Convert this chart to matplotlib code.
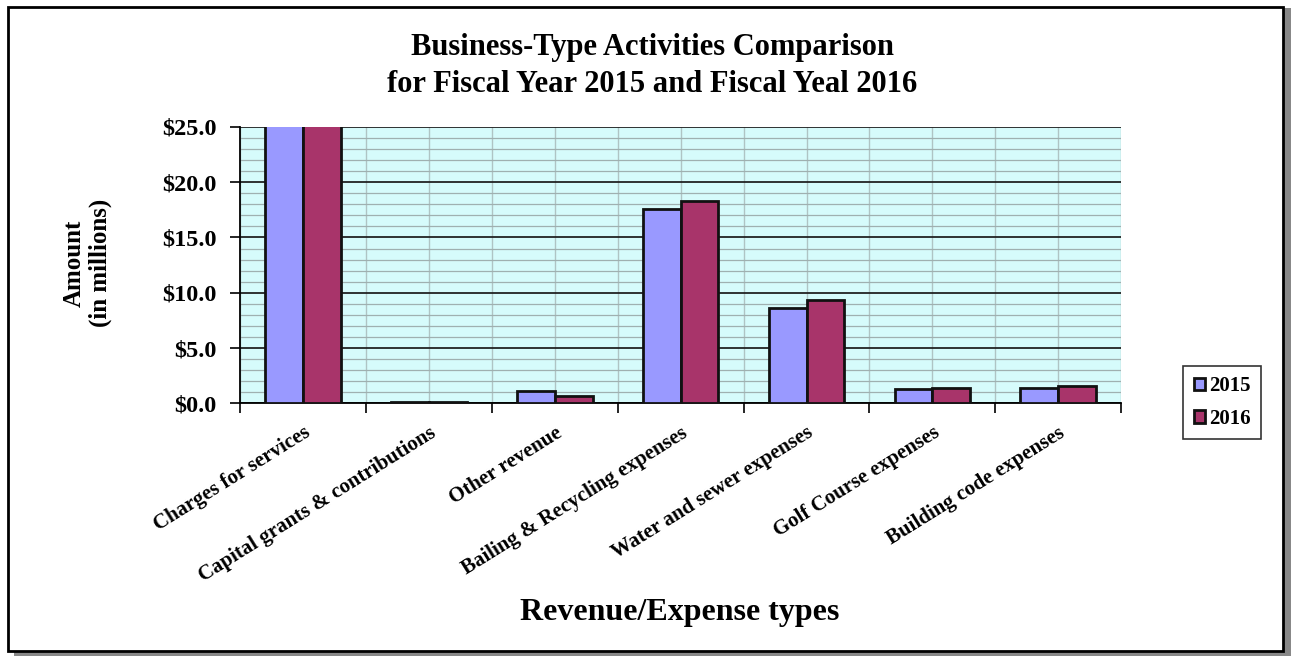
import numpy as np
import matplotlib
matplotlib.use("Agg")
import matplotlib.pyplot as plt
from matplotlib.patches import Rectangle
from matplotlib.ticker import MultipleLocator, FuncFormatter

# Data (in millions)
categories = [
    "Charges for services",
    "Capital grants & contributions",
    "Other revenue",
    "Bailing & Recycling expenses",
    "Water and sewer expenses",
    "Golf Course expenses",
    "Building code expenses",
]
values_2015 = [26.5, 0.1, 1.1, 17.6, 8.6, 1.3, 1.4]
values_2016 = [27.0, 0.1, 0.7, 18.3, 9.3, 1.4, 1.6]
series_labels = ["2015", "2016"]

plt.rcParams["font.family"] = ["Liberation Serif", "DejaVu Serif"]
plt.rcParams["font.weight"] = "bold"

fig = plt.figure(figsize=(12.92, 6.6), dpi=100)
ax = fig.add_axes([0.1858, 0.389, 0.682, 0.4186])

x = np.arange(len(categories))
w = 0.3
ax.set_facecolor("#d6fbfb")
ax.bar(x - w / 2, values_2015, w, color="#9999ff", edgecolor="#111111",
       linewidth=2, label=series_labels[0], zorder=3)
ax.bar(x + w / 2, values_2016, w, color="#a8346a", edgecolor="#111111",
       linewidth=2, label=series_labels[1], zorder=3)

ax.set_xlim(-0.5, len(categories) - 0.5)
ax.set_ylim(0, 25)

# gridlines
ax.yaxis.set_major_locator(MultipleLocator(5))
ax.yaxis.set_minor_locator(MultipleLocator(1))
ax.grid(which="major", axis="y", color="#222222", linewidth=1.3, zorder=1)
ax.grid(which="minor", axis="y", color="#9fb0b0", linewidth=0.9, zorder=1)
for xv in np.arange(-0.5, len(categories), 0.5):
    ax.axvline(xv, color="#afc4c4", linewidth=1.0, zorder=1)

ax.yaxis.set_major_formatter(FuncFormatter(lambda v, p: f"${v:.1f}"))
ax.tick_params(axis="y", which="major", length=7, width=1.2, labelsize=17.5, pad=10)
ax.tick_params(axis="y", which="minor", length=0)

# category labels, ticks at category boundaries
ax.set_xticks(x)
ax.set_xticklabels(categories, rotation=32, ha="right", rotation_mode="anchor",
                   fontsize=15, fontweight="bold")
ax.set_xticks(np.arange(-0.5, len(categories), 1.0), minor=True)
ax.tick_params(axis="x", which="major", length=0, pad=14)
ax.tick_params(axis="x", which="minor", length=7, width=1.2, direction="out")

for side in ["top", "right"]:
    ax.spines[side].set_visible(False)
ax.spines["left"].set_linewidth(1.3)
ax.spines["bottom"].set_linewidth(1.3)

ax.set_ylabel("Amount\n(in millions)", fontsize=18, fontweight="bold")
ax.yaxis.set_label_coords(-0.145, 0.507)

fig.text(0.505, 0.9, "Business-Type Activities Comparison\nfor Fiscal Year 2015 and Fiscal Yeal 2016",
         ha="center", va="center", fontsize=22, fontweight="bold", linespacing=1.35)
fig.text(0.526, 0.072, "Revenue/Expense types", ha="center", va="center",
         fontsize=23, fontweight="bold")

leg = fig.legend(loc="center", bbox_to_anchor=(0.946, 0.39), fontsize=15,
                 frameon=True, fancybox=False, edgecolor="black",
                 handlelength=0.55, handleheight=0.55, handletextpad=0.2,
                 labelspacing=0.6, borderpad=0.5)
leg.get_frame().set_linewidth(1.2)

# outer frame with shadow
fig.patches.append(Rectangle((0.011, 0.006), 0.988, 0.982, transform=fig.transFigure,
                             facecolor="#888888", edgecolor="none", zorder=-2))
fig.patches.append(Rectangle((0.006, 0.014), 0.987, 0.976, transform=fig.transFigure,
                             facecolor="white", edgecolor="black", linewidth=2, zorder=-1))

fig.savefig("out.png", dpi=100)
plt.close(fig)
